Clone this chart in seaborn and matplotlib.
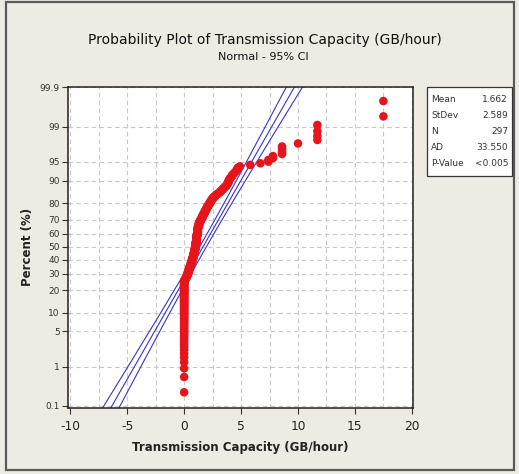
import numpy as np
import pandas as pd
import matplotlib
matplotlib.use("Agg")
import matplotlib.pyplot as plt
import seaborn as sns
from statistics import NormalDist
from matplotlib.patches import Rectangle
from matplotlib.ticker import FixedLocator, NullLocator, MultipleLocator
from matplotlib import font_manager as fm

# ---------------- data ----------------
capacity_values = [0.0, 0.1, 0.2, 0.3, 0.4, 0.5, 0.6, 0.7, 0.8, 0.9,
                   1.0, 1.1, 1.2, 1.3, 1.4, 1.5, 1.6, 1.7, 1.8, 1.9,
                   2.0, 2.1, 2.2, 2.3, 2.4, 2.5, 2.6, 2.7, 2.8, 2.9,
                   3.0, 3.1, 3.2, 3.3, 3.4, 3.5, 3.6, 3.7, 3.8, 3.9,
                   4.0, 4.1, 4.2, 4.3, 4.4, 4.5, 4.6, 4.7, 4.9,
                   5.8, 6.7, 7.4, 7.8, 8.6, 10.0, 11.7, 17.5]
capacity_counts = [76, 4, 5, 6, 7, 7, 8, 9, 10, 11,
                   15, 18, 17, 9, 5, 4, 5, 4, 4, 4,
                   4, 3, 3, 3, 3, 2, 2, 1, 2, 1,
                   1, 1, 2, 1, 2, 1, 1, 2, 2, 3,
                   2, 1, 2, 1, 1, 1, 1, 2, 1,
                   1, 1, 2, 2, 4, 1, 4, 2]

percent_ticks = [0.1, 1, 5, 10, 20, 30, 40, 50, 60, 70, 80, 90, 95, 99, 99.9]
percent_tick_labels = ["0.1", "1", "5", "10", "20", "30", "40", "50",
                       "60", "70", "80", "90", "95", "99", "99.9"]
x_ticks = [-10, -5, 0, 5, 10, 15, 20]

stat_labels = ["Mean", "StDev", "N", "AD", "P-Value"]
stat_values = ["1.662", "2.589", "297", "33.550", "<0.005"]
fit_mean = 1.662
fit_sd = 2.589
ci_level = 0.95

# ---------------- derived plotting positions ----------------
nd = NormalDist()
data = np.repeat(np.array(capacity_values, float), capacity_counts)
data.sort()
n = len(data)
ranks = np.arange(1, n + 1)
pct = (ranks - 0.3) / (n + 0.4) * 100.0
df = pd.DataFrame({"capacity": data, "percent": pct})

zc = nd.inv_cdf(0.5 + ci_level / 2)
z_grid = np.linspace(-3.6, 3.6, 200)
fit_x = fit_mean + z_grid * fit_sd
se = fit_sd / np.sqrt(n) * np.sqrt(1 + z_grid ** 2 / 2)
fit_pct = np.array([nd.cdf(z) * 100 for z in z_grid])
lines = pd.concat([
    pd.DataFrame({"x": fit_x, "p": fit_pct, "k": "fit"}),
    pd.DataFrame({"x": fit_x - zc * se, "p": fit_pct, "k": "lo"}),
    pd.DataFrame({"x": fit_x + zc * se, "p": fit_pct, "k": "hi"}),
])

_inv = np.vectorize(lambda p: nd.inv_cdf(min(max(p / 100.0, 1e-12), 1 - 1e-12)), otypes=[float])
_cdf = np.vectorize(lambda z: nd.cdf(z) * 100.0, otypes=[float])

def fwd(p):
    return _inv(np.asarray(p, float))

def inv(z):
    return _cdf(np.asarray(z, float))

# ---------------- fonts ----------------
sns.set_style("white")
plt.rcParams["font.family"] = ["DejaVu Sans"]
avail = {f.name for f in fm.fontManager.ttflist}
if "Liberation Sans Narrow" in avail:
    narrow = dict(family="Liberation Sans Narrow")
    scale = 1.0
else:
    narrow = dict(family="DejaVu Sans")
    scale = 0.8

W, H = 519, 474
bg = "#EEEBE2"
fig = plt.figure(figsize=(W / 100, H / 100), dpi=100, facecolor=bg)

def fx(px):
    return px / W

def fy(py):
    return 1 - py / H

fig.patches.append(Rectangle((fx(6), fy(470)), fx(514) - fx(6), fy(2) - fy(470),
                             transform=fig.transFigure, fill=False,
                             edgecolor="#5a5a5a", lw=1.6, zorder=0))

ax = fig.add_axes([fx(68), fy(408), fx(413) - fx(68), fy(87) - fy(408)])
ax.set_facecolor("white")

for k, g in lines.groupby("k", sort=False):
    sns.lineplot(data=g, x="x", y="p", sort=False, estimator=None, ax=ax,
                 color="#3535C8", lw=0.8, zorder=2)

sns.scatterplot(data=df, x="capacity", y="percent", ax=ax, color="#E8141C",
                edgecolor="none", s=38, zorder=3, legend=False)

ax.set_yscale("function", functions=(fwd, inv))
ax.set_ylim(0.087, 99.903)
ax.set_xlim(-10.2, 20.1)

ax.yaxis.set_major_locator(FixedLocator(percent_ticks))
ax.yaxis.set_minor_locator(NullLocator())
ax.set_yticklabels(percent_tick_labels, fontsize=6.5, color="#333333")
ax.xaxis.set_major_locator(FixedLocator(x_ticks))
ax.xaxis.set_minor_locator(MultipleLocator(2.5))
ax.set_xticklabels([str(t) for t in x_ticks], fontsize=11 * scale, color="#222222",
                   **narrow)

ax.tick_params(axis="both", which="major", direction="out", length=4,
               width=0.8, color="#333333", left=True, bottom=True, pad=2)
ax.tick_params(axis="x", which="major", pad=5)
ax.tick_params(axis="x", which="minor", length=0)

ax.grid(True, which="major", axis="y", ls=(0, (4, 3)), color="#c8c8c8", lw=0.8)
ax.grid(True, which="both", axis="x", ls=(0, (4, 3)), color="#c8c8c8", lw=0.8)
ax.set_axisbelow(True)

for s in ax.spines.values():
    s.set_color("#222222")
    s.set_linewidth(1.1)

ax.set_xlabel("")
ax.set_ylabel("")
fig.text(fx(240), fy(448), "Transmission Capacity (GB/hour)", ha="center", va="center",
         fontsize=11.5 * scale * 0.92, fontweight="bold", color="#222222", **narrow)
fig.text(fx(28), fy(247), "Percent (%)", rotation=90, ha="center", va="center",
         fontsize=8.5, fontweight="bold", color="#222222")

fig.text(fx(265), fy(40), "Probability Plot of Transmission Capacity (GB/hour)",
         ha="center", va="center", fontsize=12.5 * scale, color="#111111", **narrow)
fig.text(fx(263), fy(57), "Normal - 95% CI", ha="center", va="center",
         fontsize=10 * scale, color="#111111", **narrow)

fig.patches.append(Rectangle((fx(427), fy(176)), fx(512) - fx(427), fy(87) - fy(176),
                             transform=fig.transFigure, facecolor="white",
                             edgecolor="#333333", lw=0.9, zorder=1))
row_y = [100, 116, 132, 148, 164]
for lab, val, yy in zip(stat_labels, stat_values, row_y):
    fig.text(fx(431), fy(yy), lab, ha="left", va="center", fontsize=6.5,
             color="#333333", zorder=2)
    fig.text(fx(508), fy(yy), val, ha="right", va="center", fontsize=6.5,
             color="#333333", zorder=2)

fig.savefig("out.png", dpi=100, facecolor=bg)
